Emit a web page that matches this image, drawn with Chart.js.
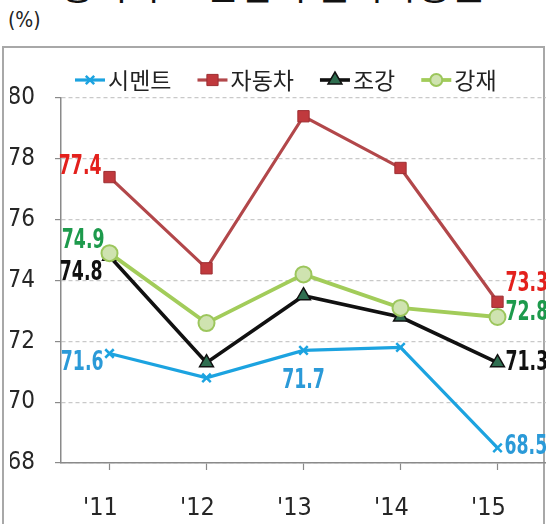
<!DOCTYPE html>
<html>
<head>
<meta charset="utf-8">
<script src="https://cdn.jsdelivr.net/npm/chart.js@4.4.1/dist/chart.umd.min.js"></script>
<style>
  html,body{margin:0;padding:0;background:#fff;overflow:hidden;}
  #wrap{position:relative;width:546px;height:524px;overflow:hidden;}
  #title{position:absolute;left:0;width:546px;top:-38px;text-align:center;font:400 37px 'Noto Sans CJK KR',sans-serif;line-height:44px;color:#111;white-space:nowrap;}
  #unit{position:absolute;left:8px;top:8px;font:21px 'DejaVu Sans Condensed',sans-serif;color:#222;}
  #frame{position:absolute;left:2px;top:46px;width:539px;height:500px;border:2px solid #A8A8A8;}
  canvas{position:absolute;left:0;top:0;}
</style>
</head>
<body>
<div id="wrap">
  <div id="title">&lt; 중국 수요산업의 설비가동률 &gt;</div>
  <div id="unit">(%)</div>
  <div id="frame"></div>
  <canvas id="c" width="546" height="524"></canvas>
</div>
<script>
// ---- data ----
const categories = ["'11", "'12", "'13", "'14", "'15"];
const seriesNames = ["시멘트", "자동차", "조강", "강재"];
const cement  = [71.6, 70.8, 71.7, 71.8, 68.5];
const autos   = [77.4, 74.4, 79.4, 77.7, 73.3];
const crude   = [74.8, 71.3, 73.5, 72.8, 71.3];
const steel   = [74.9, 72.6, 74.2, 73.1, 72.8];
const yTicks  = [68, 70, 72, 74, 76, 78, 80];
// which points carry a value label
const labeledCement = [0, 2, 4];
const labeledAutos  = [0, 4];
const labeledCrude  = [0, 4];
const labeledSteel  = [0, 4];

const COND = "'DejaVu Sans Condensed','DejaVu Sans',sans-serif";

// label placement styles (offset from point, alignment)
const labelStyles = [
  { color:'#2B9AD8', idx: labeledCement, place: {0:{dx:-6,dy:9,align:'right'}, 2:{dx:0,dy:30,align:'center'}, 4:{dx:7,dy:-1,align:'left'}} },
  { color:'#E3201C', idx: labeledAutos,  place: {0:{dx:-8,dy:-10,align:'right'}, 4:{dx:8,dy:-18,align:'left'}} },
  { color:'#111111', idx: labeledCrude,  place: {0:{dx:-7,dy:17,align:'right'}, 4:{dx:8,dy:0,align:'left'}} },
  { color:'#1D9A4C', idx: labeledSteel,  place: {0:{dx:-5,dy:-12,align:'right'}, 4:{dx:8,dy:-4,align:'left'}} }
];

function drawMarker(ctx, ds, x, y){
  ctx.save();
  ctx.lineWidth = ds.pointBorderWidth;
  ctx.strokeStyle = ds.pointBorderColor;
  ctx.fillStyle = ds.pointBackgroundColor;
  const r = ds.pointRadius;
  ctx.beginPath();
  if (ds.pointStyle === 'crossRot') {
    const q = r*0.7;
    ctx.moveTo(x-q,y-q); ctx.lineTo(x+q,y+q); ctx.moveTo(x+q,y-q); ctx.lineTo(x-q,y+q);
    ctx.stroke();
  } else if (ds.pointStyle === 'rect') {
    const q = r*0.7;
    ctx.rect(x-q,y-q,2*q,2*q); ctx.fill(); ctx.stroke();
  } else if (ds.pointStyle === 'triangle') {
    ctx.moveTo(x,y-r); ctx.lineTo(x+r*0.87,y+r*0.5); ctx.lineTo(x-r*0.87,y+r*0.5); ctx.closePath(); ctx.fill(); ctx.stroke();
  } else {
    ctx.arc(x,y,r*0.75,0,Math.PI*2); ctx.fill(); ctx.stroke();
  }
  ctx.restore();
}

const legendPlugin = {
  id:'xlLegend',
  afterDraw(chart){
    const ctx = chart.ctx;
    const y = 80;
    let x = 75;
    ctx.save();
    ctx.font = "23px 'Noto Sans CJK KR',sans-serif";
    ctx.textBaseline = 'middle';
    chart.data.datasets.forEach(ds => {
      ctx.strokeStyle = ds.borderColor; ctx.lineWidth = ds.borderWidth;
      ctx.beginPath(); ctx.moveTo(x,y); ctx.lineTo(x+30,y); ctx.stroke();
      drawMarker(ctx, ds, x+15, y);
      ctx.fillStyle = '#222';
      ctx.textAlign = 'left';
      ctx.fillText(ds.label, x+33, y);
      x += 33 + ctx.measureText(ds.label).width + 26;
    });
    ctx.restore();
  }
};

const valueLabelPlugin = {
  id:'valueLabels',
  afterDatasetsDraw(chart){
    const ctx = chart.ctx;
    chart.data.datasets.forEach((ds, di) => {
      const st = labelStyles[di];
      const meta = chart.getDatasetMeta(di);
      st.idx.forEach(i => {
        const p = meta.data[i];
        const pl = st.place[i];
        ctx.save();
        ctx.translate(p.x + pl.dx, p.y + pl.dy);
        ctx.scale(0.74, 1.05);
        ctx.font = "bold 26px " + COND;
        ctx.textBaseline = 'middle';
        ctx.fillStyle = st.color;
        ctx.textAlign = pl.align;
        ctx.fillText(ds.data[i].toFixed(1), 0, 0);
        ctx.restore();
      });
    });
  }
};

new Chart(document.getElementById('c'), {
  type:'line',
  data:{
    labels: categories,
    datasets:[
      { label: seriesNames[0], data: cement, borderColor:'#1CA3E0', borderWidth:3.2,
        pointStyle:'crossRot', pointRadius:6, pointBorderWidth:2.5, pointBorderColor:'#1CA3E0', pointBackgroundColor:'#1CA3E0', order:3 },
      { label: seriesNames[1], data: autos, borderColor:'#B2474A', borderWidth:3.2,
        pointStyle:'rect', pointRadius:8, pointBorderWidth:1, pointBorderColor:'#9E2F33', pointBackgroundColor:'#C0393D', order:2 },
      { label: seriesNames[2], data: crude, borderColor:'#111111', borderWidth:3.6,
        pointStyle:'triangle', pointRadius:8, pointBorderWidth:1.5, pointBorderColor:'#111111', pointBackgroundColor:'#2F6E50', order:1 },
      { label: seriesNames[3], data: steel, borderColor:'#A2CC5A', borderWidth:3.8,
        pointStyle:'circle', pointRadius:8, pointBorderWidth:2, pointBorderColor:'#9CC65C', pointBackgroundColor:'#CFE3B0', order:0 }
    ]
  },
  options:{
    responsive:false,
    animation:false,
    events:[],
    layout:{autoPadding:false, padding:{top:98,left:10,right:0,bottom:0}},
    plugins:{legend:{display:false}, tooltip:{enabled:false}, title:{display:false}},
    elements:{line:{tension:0}},
    scales:{
      x:{
        type:'category',
        offset:true,
        afterFit(s){ s.height = 61; s.paddingLeft = 0; s.paddingRight = 0; },
        grid:{drawOnChartArea:false, drawTicks:true, tickLength:7, tickColor:'#8A8A8A', tickWidth:1.2},
        border:{display:true, color:'#8A8A8A', width:1.5},
        ticks:{color:'#262626', font:{family:COND, size:25}, padding:23, labelOffset:-9, maxRotation:0, autoSkip:false}
      },
      y:{
        min:68, max:80,
        afterBuildTicks(s){ s.ticks = yTicks.map(v => ({value:v})); },
        afterFit(s){ s.width = 51; },
        grid:{color:'#C9C9C9', lineWidth:1.2, drawTicks:true, tickLength:6, tickColor:'#8A8A8A', tickWidth:1.2, tickBorderDash:[]},
        border:{display:true, color:'#8A8A8A', width:1.5, dash:[4,3]},
        ticks:{color:'#262626', font:{family:COND, size:24}, padding:20}
      }
    }
  },
  plugins:[valueLabelPlugin, legendPlugin]
});
</script>
</body>
</html>
